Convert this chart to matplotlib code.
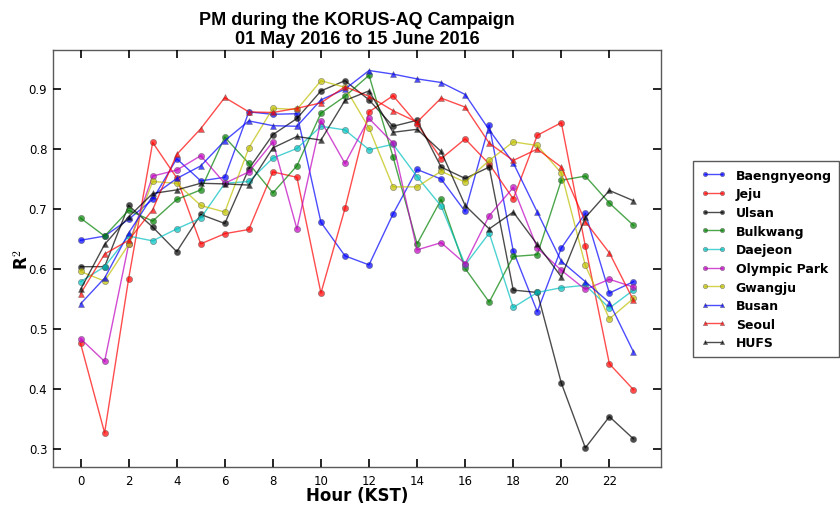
import matplotlib
matplotlib.use("Agg")
import matplotlib.pyplot as plt
import numpy as np

hours = np.arange(24)

baengnyeong = [0.648, 0.655, 0.683, 0.716, 0.784, 0.747, 0.753, 0.862, 0.858, 0.859, 0.678, 0.622,
               0.607, 0.692, 0.766, 0.750, 0.696, 0.840, 0.630, 0.529, 0.635, 0.693, 0.560, 0.579]
jeju = [0.476, 0.327, 0.584, 0.811, 0.752, 0.642, 0.659, 0.666, 0.762, 0.753, 0.560, 0.701,
        0.862, 0.889, 0.842, 0.784, 0.817, 0.775, 0.717, 0.823, 0.844, 0.638, 0.442, 0.399]
ulsan = [0.604, 0.604, 0.706, 0.670, 0.629, 0.691, 0.676, 0.767, 0.824, 0.851, 0.897, 0.914,
         0.882, 0.838, 0.848, 0.770, 0.751, 0.770, 0.565, 0.561, 0.410, 0.302, 0.354, 0.317]
bulkwang = [0.685, 0.655, 0.698, 0.680, 0.716, 0.732, 0.820, 0.776, 0.727, 0.772, 0.860, 0.888,
            0.923, 0.787, 0.642, 0.716, 0.601, 0.545, 0.621, 0.624, 0.748, 0.755, 0.710, 0.673]
daejeon = [0.579, 0.604, 0.655, 0.647, 0.667, 0.685, 0.743, 0.746, 0.785, 0.801, 0.838, 0.832,
           0.799, 0.808, 0.754, 0.705, 0.607, 0.660, 0.536, 0.561, 0.569, 0.573, 0.535, 0.565]
olympic_park = [0.484, 0.446, 0.641, 0.755, 0.765, 0.789, 0.743, 0.762, 0.812, 0.667, 0.847, 0.776,
                0.851, 0.810, 0.632, 0.644, 0.609, 0.689, 0.736, 0.635, 0.598, 0.566, 0.583, 0.570]
gwangju = [0.596, 0.580, 0.641, 0.746, 0.743, 0.706, 0.695, 0.802, 0.868, 0.866, 0.914, 0.903,
           0.835, 0.737, 0.737, 0.763, 0.745, 0.781, 0.812, 0.806, 0.760, 0.606, 0.517, 0.551]
busan = [0.542, 0.585, 0.660, 0.722, 0.751, 0.772, 0.814, 0.847, 0.839, 0.838, 0.882, 0.900,
         0.931, 0.925, 0.917, 0.911, 0.891, 0.832, 0.777, 0.695, 0.613, 0.579, 0.544, 0.462]
seoul = [0.559, 0.625, 0.648, 0.699, 0.791, 0.834, 0.886, 0.862, 0.861, 0.868, 0.877, 0.904,
         0.888, 0.864, 0.845, 0.885, 0.870, 0.810, 0.781, 0.800, 0.770, 0.679, 0.627, 0.548]
hufs = [0.566, 0.641, 0.687, 0.726, 0.732, 0.743, 0.742, 0.740, 0.802, 0.821, 0.815, 0.881,
        0.897, 0.828, 0.833, 0.796, 0.706, 0.667, 0.695, 0.641, 0.587, 0.686, 0.731, 0.714]

sites = [
    ("Baengnyeong", baengnyeong, "b", "o"),
    ("Jeju", jeju, "r", "o"),
    ("Ulsan", ulsan, "k", "o"),
    ("Bulkwang", bulkwang, "g", "o"),
    ("Daejeon", daejeon, "c", "o"),
    ("Olympic Park", olympic_park, "m", "o"),
    ("Gwangju", gwangju, "y", "o"),
    ("Busan", busan, "b", "^"),
    ("Seoul", seoul, "r", "^"),
    ("HUFS", hufs, "k", "^"),
]

plt.style.use("classic")
fig = plt.figure(figsize=(8.4, 5.06), dpi=100, facecolor="white")
ax = fig.add_axes([0.063, 0.075, 0.724, 0.824])

for name, values, color, marker in sites:
    ax.plot(hours, values, color=color, alpha=0.7, linewidth=1.0, label=name,
            marker=marker, markersize=4.5, markerfacecolor=color, markeredgecolor="0.35",
            markeredgewidth=0.4)

ax.set_xlim(-1.15, 24.15)
ax.set_ylim(0.27, 0.965)
ax.set_xticks(range(0, 24, 2))
ax.set_yticks([0.3, 0.4, 0.5, 0.6, 0.7, 0.8, 0.9])
ax.tick_params(direction="in", length=6, width=1.2, labelsize=8.5, top=True, right=True)
ax.tick_params(axis="x", pad=5)
for spine in ax.spines.values():
    spine.set_color("0.35")

ax.set_xlabel("Hour (KST)", fontsize=12, fontweight="bold", labelpad=-1)
ax.set_ylabel("R$^\\mathbf{2}$", fontsize=12, fontweight="bold", labelpad=-2)
ax.set_title("PM during the KORUS-AQ Campaign\n01 May 2016 to 15 June 2016",
             fontsize=13, fontweight="bold", family="Liberation Sans", linespacing=1.15, pad=5)

leg = ax.legend(loc="center left", bbox_to_anchor=(0.818, 0.486), bbox_transform=fig.transFigure,
                prop={"size": 9, "weight": "bold"}, numpoints=2, markerscale=0.7,
                handlelength=2.0, labelspacing=0.45, borderpad=0.6, fancybox=False, frameon=True)
leg.get_frame().set_edgecolor("0.35")

fig.savefig("out.png", dpi=100, facecolor="white")
